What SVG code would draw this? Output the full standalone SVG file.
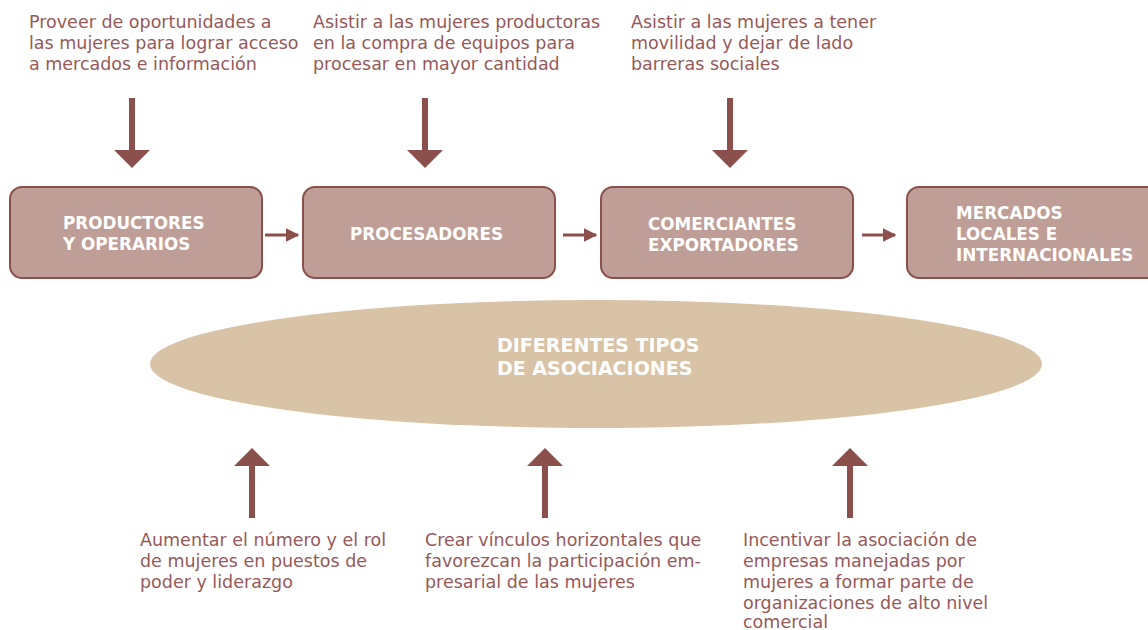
<svg xmlns="http://www.w3.org/2000/svg" width="1148" height="630" viewBox="0 0 1148 630">
<defs>
<style>
.t{font-family:"DejaVu Sans","Open Sans",sans-serif;font-size:17.5px;fill:#95595a}
.b{font-family:"DejaVu Sans","Open Sans",sans-serif;font-size:16.8px;font-weight:bold;fill:#ffffff}
.e{font-size:19px}
.box{fill:#bf9e97;stroke:#8b4f4c;stroke-width:2}
.ar{fill:#8b4f4c}
</style>
<marker id="ah" viewBox="0 0 10 10" refX="9" refY="5" markerWidth="4.5" markerHeight="4.5" orient="auto"><path d="M0,0L10,5L0,10z" fill="#8b4f4c"/></marker>
</defs>
<rect width="1148" height="630" fill="#ffffff"/>
<g id="note1"><text class="t" x="29" y="28">Proveer de oportunidades a</text><text class="t" x="29" y="49">las mujeres para lograr acceso</text><text class="t" x="29" y="70">a mercados e información</text></g>
<g id="note2"><text class="t" x="313" y="28">Asistir a las mujeres productoras</text><text class="t" x="313" y="49">en la compra de equipos para</text><text class="t" x="313" y="70">procesar en mayor cantidad</text></g>
<g id="note3"><text class="t" x="631" y="28">Asistir a las mujeres a tener</text><text class="t" x="631" y="49">movilidad y dejar de lado</text><text class="t" x="631" y="70">barreras sociales</text></g>
<g id="productores"><rect class="box" x="10" y="187" width="252" height="91" rx="12"/><text class="b" x="63" y="229">PRODUCTORES</text><text class="b" x="63" y="250">Y OPERARIOS</text></g>
<g id="procesadores"><rect class="box" x="303" y="187" width="252" height="91" rx="12"/><text class="b" x="350" y="240">PROCESADORES</text></g>
<g id="comerciantes"><rect class="box" x="601" y="187" width="252" height="91" rx="12"/><text class="b" x="648" y="230">COMERCIANTES</text><text class="b" x="648" y="251">EXPORTADORES</text></g>
<g id="mercados"><rect class="box" x="907" y="187" width="260" height="91" rx="12"/><text class="b" x="956" y="219">MERCADOS</text><text class="b" x="956" y="240">LOCALES E</text><text class="b" x="956" y="261">INTERNACIONALES</text></g>
<g id="asociaciones"><ellipse cx="596" cy="364" rx="446" ry="64" fill="#d9c3a6"/><text class="b e" x="497" y="352">DIFERENTES TIPOS</text><text class="b e" x="497" y="375">DE ASOCIACIONES</text></g>
<g id="note4"><text class="t" x="140" y="546">Aumentar el número y el rol</text><text class="t" x="140" y="567">de mujeres en puestos de</text><text class="t" x="140" y="588">poder y liderazgo</text></g>
<g id="note5"><text class="t" x="425" y="546">Crear vínculos horizontales que</text><text class="t" x="425" y="567">favorezcan la participación em-</text><text class="t" x="425" y="588">presarial de las mujeres</text></g>
<g id="note6"><text class="t" x="743" y="546">Incentivar la asociación de</text><text class="t" x="743" y="567">empresas manejadas por</text><text class="t" x="743" y="588">mujeres a formar parte de</text><text class="t" x="743" y="609">organizaciones de alto nivel</text><text class="t" x="743" y="628">comercial</text></g>
<g id="connectors">
<path class="ar" d="M129,98h6v52h15l-18,18l-18,-18h15z"/>
<path class="ar" d="M422,98h6v52h15l-18,18l-18,-18h15z"/>
<path class="ar" d="M727,98h6v52h15l-18,18l-18,-18h15z"/>
<path class="ar" d="M249,518h6v-52h15l-18,-18l-18,18h15z"/>
<path class="ar" d="M542,518h6v-52h15l-18,-18l-18,18h15z"/>
<path class="ar" d="M847,518h6v-52h15l-18,-18l-18,18h15z"/>
<g stroke="#8b4f4c" stroke-width="3" fill="none" marker-end="url(#ah)">
<line x1="265" y1="235" x2="298" y2="235"/>
<line x1="563" y1="235" x2="596" y2="235"/>
<line x1="862" y1="235" x2="895" y2="235"/>
</g>
</g>
</svg>
